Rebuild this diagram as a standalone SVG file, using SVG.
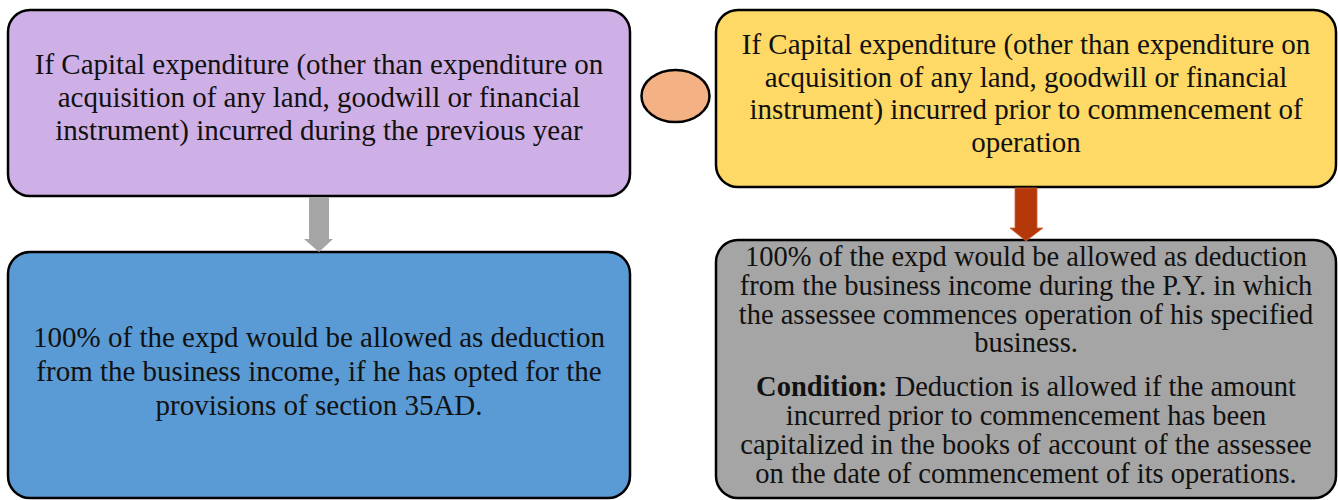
<svg xmlns="http://www.w3.org/2000/svg" width="1338" height="500" viewBox="0 0 1338 500">
<style>
.box{stroke:#000;stroke-width:2.5}
.t{font-family:"Liberation Serif",serif;font-size:29px;fill:#111;text-anchor:middle}
.s{font-family:"Liberation Serif",serif;font-size:28.5px;fill:#111;text-anchor:middle}
</style>
<rect width="1338" height="500" fill="#fff"/>
<g id="n1">
<rect class="box" x="8" y="10" width="622" height="186" rx="22" fill="#cfb0e6"/>
<text class="t" x="319" y="74">If Capital expenditure (other than expenditure on</text>
<text class="t" x="319" y="107">acquisition of any land, goodwill or financial</text>
<text class="t" x="319" y="140">instrument) incurred during the previous year</text>
</g>
<g id="n2">
<rect class="box" x="8" y="252" width="622" height="246" rx="22" fill="#5b9bd5"/>
<text class="t" x="319" y="347">100% of the expd would be allowed as deduction</text>
<text class="t" x="319" y="381">from the business income, if he has opted for the</text>
<text class="t" x="319" y="415">provisions of section 35AD.</text>
</g>
<g id="n3">
<ellipse class="box" cx="675.5" cy="96" rx="34" ry="26" fill="#f4b183"/>
</g>
<g id="n4">
<rect class="box" x="716" y="10" width="620" height="177" rx="22" fill="#ffd966"/>
<text class="t" x="1026" y="54">If Capital expenditure (other than expenditure on</text>
<text class="t" x="1026" y="87">acquisition of any land, goodwill or financial</text>
<text class="t" x="1026" y="119">instrument) incurred prior to commencement of</text>
<text class="t" x="1026" y="152">operation</text>
</g>
<g id="n5">
<rect class="box" x="716" y="240" width="620" height="258" rx="22" fill="#a5a5a5"/>
<text class="s" x="1026" y="266">100% of the expd would be allowed as deduction</text>
<text class="s" x="1026" y="295">from the business income during the P.Y. in which</text>
<text class="s" x="1026" y="324">the assessee commences operation of his specified</text>
<text class="s" x="1026" y="352">business.</text>
<text class="s" x="1026" y="396"><tspan font-weight="bold">Condition:</tspan> Deduction is allowed if the amount</text>
<text class="s" x="1026" y="425">incurred prior to commencement has been</text>
<text class="s" x="1026" y="454">capitalized in the books of account of the assessee</text>
<text class="s" x="1026" y="483">on the date of commencement of its operations.</text>
</g>
<g id="connectors">
<polygon points="309,197 329,197 329,239 333,239 319,252 304,239 309,239" fill="#a5a5a5"/>
<polygon points="1015,188 1037,188 1037,228 1043,228 1026,241 1010,228 1015,228" fill="#b5380a" stroke="#d0623a" stroke-width="0.8"/>
</g>
</svg>
